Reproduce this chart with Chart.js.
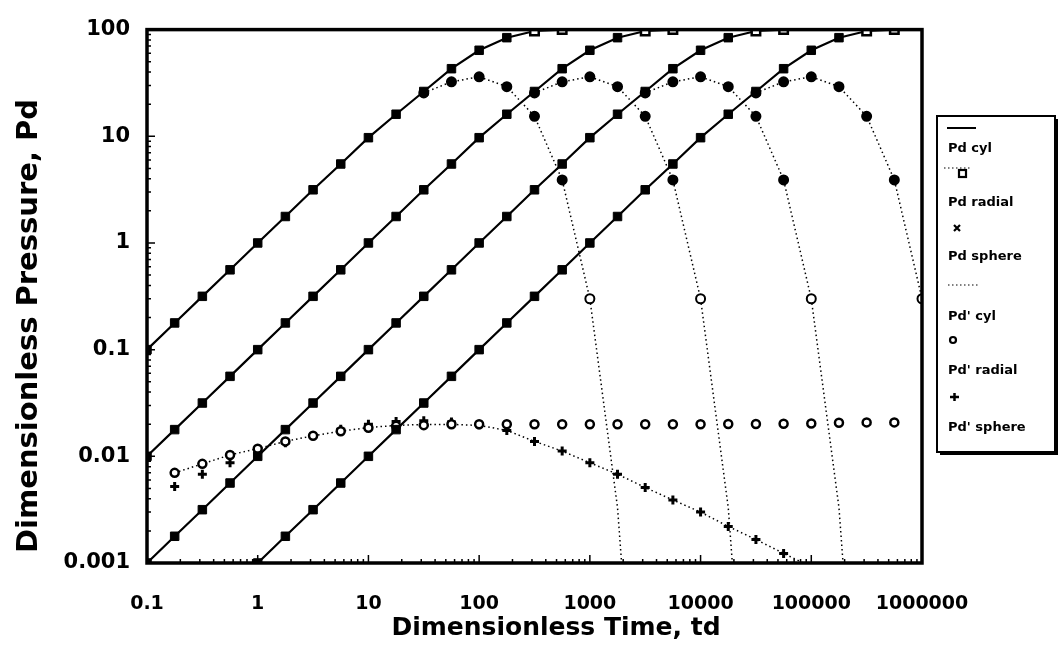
<!DOCTYPE html>
<html><head><meta charset="utf-8">
<script src="https://cdn.jsdelivr.net/npm/chart.js@4.4.1/dist/chart.umd.min.js"></script>
<style>html,body{margin:0;padding:0;background:#fff;}#wrap{position:relative;width:1059px;height:648px;}</style>
</head><body><div id="wrap"><canvas id="c"></canvas></div>
<script>
// ---- data ----
const tdGrid = [0.1, 0.1778, 0.3162, 0.5623, 1, 1.778, 3.162, 5.623, 10, 17.78, 31.62, 56.23, 100, 177.8, 316.2, 562.3, 1000, 1778, 3162, 5623, 10000, 17783, 31623, 56234, 100000, 177828, 316228, 562341, 1000000];
const xTickValues = [0.1, 1, 10, 100, 1000, 10000, 100000, 1000000];
const xTickLabels = ['0.1', '1', '10', '100', '1000', '10000', '100000', '1000000'];
const yTickValues = [0.001, 0.01, 0.1, 1, 10, 100];
const yTickLabels = ['0.001', '0.01', '0.1', '1', '10', '100'];
const xTitle = 'Dimensionless Time, td';
const yTitle = 'Dimensionless Pressure, Pd';
const legendLabels = ['Pd cyl', 'Pd radial', 'Pd sphere', "Pd' cyl", "Pd' radial", "Pd' sphere"];

// Pd curves (solid line, squares): first td of each curve and its values
const pd1Start = 0.1;
const pd1Values = [0.1, 0.178, 0.316, 0.56, 1.0, 1.77, 3.15, 5.5, 9.7, 16.1, 26.3, 43, 64, 84, 97, 100];
const pd2Start = 0.1;
const pd2Values = [0.01, 0.0178, 0.0316, 0.0562, 0.1, 0.178, 0.316, 0.56, 1.0, 1.77, 3.15, 5.5, 9.7, 16.1, 26.3, 43, 64, 84, 97, 100];
const pd3Start = 0.1;
const pd3Values = [0.001, 0.00178, 0.00316, 0.00562, 0.01, 0.0178, 0.0316, 0.0562, 0.1, 0.178, 0.316, 0.56, 1.0, 1.77, 3.15, 5.5, 9.7, 16.1, 26.3, 43, 64, 84, 97, 100];
const pd4Start = 1;
const pd4Values = [0.001, 0.00178, 0.00316, 0.00562, 0.01, 0.0178, 0.0316, 0.0562, 0.1, 0.178, 0.316, 0.56, 1.0, 1.77, 3.15, 5.5, 9.7, 16.1, 26.3, 43, 64, 84, 97, 100];

// Pd' derivative arcs (dotted, filled circles)
const dp1Start = 31.62;
const dp1Values = [25.5, 32.4, 36.1, 29.2, 15.4, 3.9, 0.3, 0.0033, 0.000001];
const dp2Start = 316.2;
const dp2Values = [25.5, 32.4, 36.1, 29.2, 15.4, 3.9, 0.3, 0.0033, 0.000001];
const dp3Start = 3162;
const dp3Values = [25.5, 32.4, 36.1, 29.2, 15.4, 3.9, 0.3, 0.0033, 0.000001];
const dp4Start = 31623;
const dp4Values = [25.5, 32.4, 36.1, 29.2, 15.4, 3.9, 0.3];

// Pd' radial (open circles)
const radialStart = 0.1778;
const radialValues = [0.0070, 0.0085, 0.0103, 0.0118, 0.0138, 0.0156, 0.0172, 0.0185, 0.0193, 0.0196, 0.0200, 0.0200, 0.0200, 0.0200, 0.0200, 0.0200, 0.0200, 0.0200, 0.0200, 0.0200, 0.0201, 0.0201, 0.0202, 0.0203, 0.0206, 0.0208, 0.0208];

// Pd' sphere (+ markers) and its dotted trend line
const sphereStart = 0.1778;
const sphereValues = [0.0052, 0.0068, 0.0087, 0.0110, 0.0134, 0.0157, 0.0179, 0.0200, 0.0212, 0.0215, 0.0210, 0.0198, 0.0175, 0.0138, 0.0112, 0.0087, 0.0068, 0.0051, 0.0039, 0.0030, 0.0022, 0.00166, 0.00123];
const sphereLineStart = 0.1778;
const sphereLineValues = [0.0070, 0.0085, 0.0103, 0.0118, 0.0138, 0.0156, 0.0172, 0.0186, 0.0195, 0.0199, 0.0199, 0.0195, 0.0175, 0.0138, 0.0112, 0.0087, 0.0068, 0.0051, 0.0039, 0.0030, 0.0022, 0.00166, 0.00123, 0.00092];

// ---- build ----
function pts(startTd, vals) {
  const i0 = tdGrid.indexOf(startTd);
  return vals.map((v, i) => ({ x: tdGrid[i0 + i], y: v }));
}
const FONT = 'DejaVu Sans';
const pdStyle = { showLine: true, borderColor: '#000', borderWidth: 2.2, pointStyle: 'rect', pointRadius: 6,
  pointBackgroundColor: c => (c.raw && c.raw.y >= 96) ? '#fff' : '#000', pointBorderColor: '#000', pointBorderWidth: c => (c.raw && c.raw.y >= 96) ? 2.5 : 1 };
const dpStyle = { showLine: true, borderColor: '#000', borderWidth: 1.5, borderDash: [1.5, 3], pointStyle: 'circle',
  pointRadius: c => (c.raw && c.raw.y < 0.1) ? 0 : 4.5,
  pointBackgroundColor: c => (c.raw && c.raw.y < 1) ? '#fff' : '#000', pointBorderColor: '#000', pointBorderWidth: 2 };

const datasets = [
  Object.assign({ label: 'pd1', data: pts(pd1Start, pd1Values) }, pdStyle),
  Object.assign({ label: 'pd2', data: pts(pd2Start, pd2Values) }, pdStyle),
  Object.assign({ label: 'pd3', data: pts(pd3Start, pd3Values) }, pdStyle),
  Object.assign({ label: 'pd4', data: pts(pd4Start, pd4Values) }, pdStyle),
  Object.assign({ label: 'dp1', data: pts(dp1Start, dp1Values) }, dpStyle),
  Object.assign({ label: 'dp2', data: pts(dp2Start, dp2Values) }, dpStyle),
  Object.assign({ label: 'dp3', data: pts(dp3Start, dp3Values) }, dpStyle),
  Object.assign({ label: 'dp4', data: pts(dp4Start, dp4Values) }, dpStyle),
  { label: 'radial', data: pts(radialStart, radialValues), showLine: false, pointStyle: 'circle', pointRadius: 4, pointBackgroundColor: '#fff', pointBorderColor: '#000', pointBorderWidth: 2.5 },
  { label: 'sphere', data: pts(sphereStart, sphereValues), showLine: false, pointStyle: 'cross', pointRadius: 4.5, pointBorderColor: '#000', pointBorderWidth: 3 },
  { label: 'sphereLine', data: pts(sphereLineStart, sphereLineValues), showLine: true, borderColor: '#000', borderWidth: 1.5, borderDash: [1.5, 3], pointRadius: 0 }
];

const framePlugin = {
  id: 'frame',
  afterDatasetsDraw(chart) {
    const { ctx, chartArea: a, scales: { x, y } } = chart;
    ctx.save();
    ctx.strokeStyle = '#000';
    ctx.lineWidth = 1.5;
    ctx.beginPath();
    for (let e = -1; e < 6; e++) for (let m = 1; m < 10; m++) {
      const px = x.getPixelForValue(m * Math.pow(10, e));
      const len = m === 1 ? 8 : 4;
      ctx.moveTo(px, a.bottom); ctx.lineTo(px, a.bottom - len);
    }
    for (let e = -3; e < 2; e++) for (let m = 1; m < 10; m++) {
      const py = y.getPixelForValue(m * Math.pow(10, e));
      const len = m === 1 ? 8 : 4;
      ctx.moveTo(a.left, py); ctx.lineTo(a.left + len, py);
    }
    ctx.stroke();
    ctx.lineWidth = 3.5;
    ctx.strokeRect(a.left, a.top, a.right - a.left, a.bottom - a.top);
    ctx.restore();
  }
};

const titlePlugin = {
  id: 'axisTitles',
  afterDraw(chart) {
    const ctx = chart.ctx;
    ctx.save();
    ctx.fillStyle = '#000';
    ctx.textAlign = 'center';
    ctx.textBaseline = 'middle';
    ctx.font = 'bold 25px "' + FONT + '"';
    ctx.fillText(xTitle, 556, 628);
    ctx.translate(29, 326);
    ctx.rotate(-Math.PI / 2);
    ctx.font = 'bold 29px "' + FONT + '"';
    ctx.fillText(yTitle, 0, 0);
    ctx.restore();
  }
};

const legendPlugin = {
  id: 'sideLegend',
  afterDraw(chart) {
    const ctx = chart.ctx;
    ctx.save();
    const L = 937, T = 116, W = 118, H = 336;
    ctx.fillStyle = '#fff';
    ctx.fillRect(L, T, W, H);
    ctx.strokeStyle = '#000';
    ctx.lineWidth = 2;
    ctx.strokeRect(L, T, W, H);
    ctx.fillStyle = '#000';
    ctx.fillRect(L + W, T + 3, 3, H);
    ctx.fillRect(L + 3, T + H, W, 3);
    ctx.lineWidth = 2;
    ctx.beginPath(); ctx.moveTo(947, 128); ctx.lineTo(976, 128); ctx.stroke();
    ctx.lineWidth = 1.2; ctx.setLineDash([1.5, 2.5]);
    ctx.beginPath(); ctx.moveTo(944, 168); ctx.lineTo(970, 168); ctx.stroke();
    ctx.beginPath(); ctx.moveTo(948, 285); ctx.lineTo(978, 285); ctx.stroke();
    ctx.setLineDash([]);
    ctx.lineWidth = 2.2;
    ctx.strokeRect(959, 170, 7, 7);
    ctx.beginPath(); ctx.moveTo(954, 225); ctx.lineTo(960, 231); ctx.moveTo(960, 225); ctx.lineTo(954, 231); ctx.stroke();
    ctx.beginPath(); ctx.arc(953, 340, 3, 0, Math.PI * 2); ctx.stroke();
    ctx.lineWidth = 2.5;
    ctx.beginPath(); ctx.moveTo(950, 397); ctx.lineTo(959, 397); ctx.moveTo(954.5, 393); ctx.lineTo(954.5, 401); ctx.stroke();
    ctx.font = 'bold 13px "' + FONT + '"';
    ctx.textBaseline = 'middle';
    ctx.textAlign = 'left';
    const ys = [149, 203, 257, 317, 371, 428];
    legendLabels.forEach((t, i) => ctx.fillText(t, 948, ys[i]));
    ctx.restore();
  }
};

new Chart(document.getElementById('c'), {
  type: 'scatter',
  data: { datasets },
  options: {
    responsive: true, maintainAspectRatio: false, animation: false,
    layout: { padding: { top: 20, right: 137, left: 0, bottom: 0 } },
    plugins: { legend: { display: false }, tooltip: { enabled: false } },
    scales: {
      x: {
        type: 'logarithmic', min: 0.1, max: 1000000,
        afterBuildTicks: s => { s.ticks = xTickValues.map(v => ({ value: v })); },
        afterFit: s => { s.height = 85; },
        ticks: { autoSkip: false, maxRotation: 0, padding: 30, color: '#000', font: { family: FONT, size: 19, weight: 'bold' },
          callback: v => xTickLabels[xTickValues.findIndex(t => Math.abs(Math.log10(t) - Math.log10(v)) < 1e-6)] },
        grid: { display: false, drawTicks: false }, border: { display: false },
        title: { display: false, text: xTitle }
      },
      y: {
        type: 'logarithmic', min: 0.001, max: 100,
        afterBuildTicks: s => { s.ticks = yTickValues.map(v => ({ value: v })); },
        afterFit: s => { s.width = 147; },
        ticks: { autoSkip: false, padding: 17, color: '#000', font: { family: FONT, size: 21, weight: 'bold' },
          callback: v => yTickLabels[yTickValues.findIndex(t => Math.abs(Math.log10(t) - Math.log10(v)) < 1e-6)] },
        grid: { display: false, drawTicks: false }, border: { display: false },
        title: { display: false, text: yTitle }
      }
    }
  },
  plugins: [framePlugin, titlePlugin, legendPlugin]
});
</script></body></html>
